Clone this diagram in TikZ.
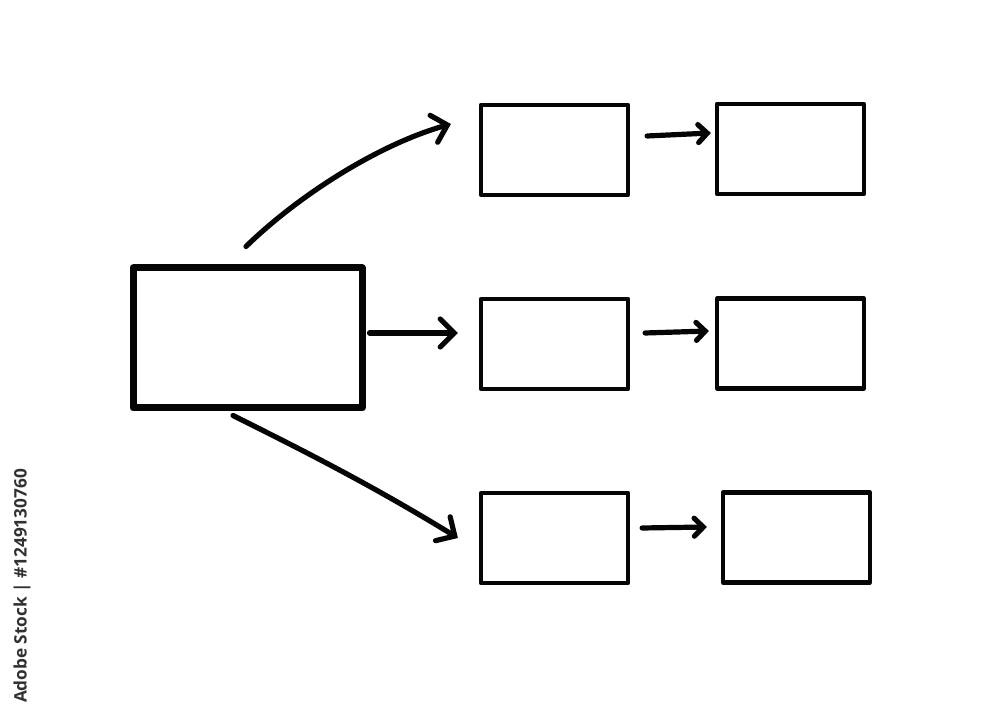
\documentclass[tikz,border=0pt]{standalone}
\usepackage{fontspec}
\newfontfamily\idfont{Open Sans}
\usetikzlibrary{arrows.meta,calc}
\definecolor{ink}{HTML}{050505}
\definecolor{idgray}{HTML}{303030}
\tikzset{
  bigbox/.style={draw=ink, line width=7pt, minimum width=229pt, minimum height=140pt, inner sep=0pt, line join=round},
  smallbox/.style={draw=ink, line width=4.2pt, minimum width=147pt, minimum height=90pt, inner sep=0pt, line join=round},
  bigarrow/.style={draw=ink, line width=5.2pt, line cap=round, -{Straight Barb[length=14pt,width=28pt,line cap=round]}},
  smallarrow/.style={draw=ink, line width=5.2pt, line cap=round, -{Straight Barb[length=9pt,width=18pt,line cap=round]}},
}
\begin{document}
\begin{tikzpicture}[x=1pt,y=1pt]
\useasboundingbox (0,0) rectangle (1000,714);
\fill[white] (0,0) rectangle (1000,714);
\node[rotate=90, anchor=east, inner sep=0pt, text=idgray, font=\idfont\fontsize{17.2}{17.2}\selectfont\bfseries] (idtext) at (22,245) {Adobe Stock | \#1249130760};
% boxes
\node[bigbox] (main) at (247.5,376) {};
\node[smallbox] (b1) at (554.5,564) {};
\node[smallbox] (c1) at (790.5,565) {};
\node[smallbox] (b2) at (554.5,370) {};
\node[smallbox] (c2) at (790.5,370.5) {};
\node[smallbox] (b3) at (554.5,176) {};
\node[smallbox] (c3) at (796.5,176.5) {};
% connector ends
\coordinate (ts) at ($(main.north)+(-1.5,18)$);
\coordinate (te) at ($(b1.west)+(-28,26)$);
\coordinate (ms) at ($(main.east)+(4,5)$);
\coordinate (me) at ($(b2.west)+(-21,11)$);
\coordinate (bs) at ($(main.south)+(-14.5,-4)$);
\coordinate (be) at ($(b3.west)+(-21,0)$);
\coordinate (r1s) at ($(b1.east)+(17,14)$);
\coordinate (r1e) at ($(c1.west)+(-4,16)$);
\coordinate (r2s) at ($(b2.east)+(15,11)$);
\coordinate (r2e) at ($(c2.west)+(-6,12.5)$);
\coordinate (r3s) at ($(b3.east)+(12,10)$);
\coordinate (r3e) at ($(c3.west)+(-14,10.5)$);
% connectors
\draw[bigarrow] (ts) .. controls (300,520) and (380,570) .. (te);
\draw[bigarrow] (ms) -- (me);
\draw[bigarrow] (bs) .. controls (300,265) and (370,230) .. (be);
\draw[smallarrow] (r1s) -- (r1e);
\draw[smallarrow] (r2s) -- (r2e);
\draw[smallarrow] (r3s) -- (r3e);
\end{tikzpicture}
\end{document}
